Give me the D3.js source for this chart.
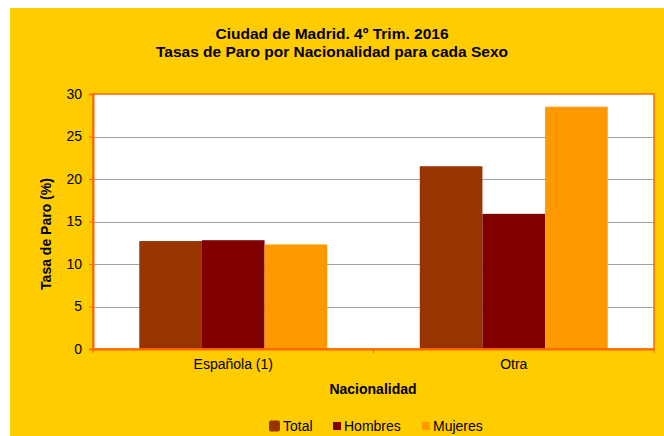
<!DOCTYPE html>
<html lang="es">
<head>
    <meta charset="UTF-8">
    <title>Tasas de Paro por Nacionalidad</title>
    <script src="https://d3js.org/d3.v7.min.js"></script>
    <style>
        body { margin: 0; background: #ffffff; }
        svg text { font-family: Arial, 'Liberation Sans', sans-serif; fill: #000; }
    </style>
</head>
<body>
    <svg id="chart" width="664" height="436"></svg>
    <script>
        // data
        const categories = ['Española (1)', 'Otra'];
        const seriesNames = ['Total', 'Hombres', 'Mujeres'];
        const total = [12.7, 21.5];
        const hombres = [12.8, 15.9];
        const mujeres = [12.3, 28.5];
        const yTicks = [0, 5, 10, 15, 20, 25, 30];

        const colors = { Total: '#993300', Hombres: '#800000', Mujeres: '#FF9900' };
        const orange = '#FF6600';

        const svg = d3.select('#chart');

        // yellow chart background
        svg.append('rect')
            .attr('x', 10).attr('y', 8)
            .attr('width', 654).attr('height', 428)
            .attr('fill', '#FFCC00');

        const plot = { left: 93, top: 94, right: 654, bottom: 349 };

        const x0 = d3.scaleBand()
            .domain(categories)
            .range([plot.left, plot.right])
            .paddingInner(0.33)
            .paddingOuter(0.165);
        const x1 = d3.scaleBand()
            .domain(seriesNames)
            .range([0, x0.bandwidth()]);
        const y = d3.scaleLinear()
            .domain([0, 30])
            .range([plot.bottom, plot.top]);

        // plot area
        svg.append('rect')
            .attr('x', plot.left).attr('y', plot.top)
            .attr('width', plot.right - plot.left)
            .attr('height', plot.bottom - plot.top)
            .attr('fill', '#ffffff');

        // gridlines
        svg.append('g')
            .selectAll('line')
            .data(yTicks.filter(d => d > 0 && d < 30))
            .join('line')
            .attr('x1', plot.left).attr('x2', plot.right)
            .attr('y1', d => Math.round(y(d)) + 0.5)
            .attr('y2', d => Math.round(y(d)) + 0.5)
            .attr('stroke', '#a0a0a0')
            .attr('stroke-width', 1);

        // bars
        const rows = categories.map((c, i) => ({
            cat: c,
            vals: [
                { key: 'Total', v: total[i] },
                { key: 'Hombres', v: hombres[i] },
                { key: 'Mujeres', v: mujeres[i] }
            ]
        }));

        svg.append('g')
            .selectAll('g')
            .data(rows)
            .join('g')
            .attr('transform', d => `translate(${x0(d.cat)},0)`)
            .selectAll('rect')
            .data(d => d.vals)
            .join('rect')
            .attr('x', d => x1(d.key))
            .attr('y', d => y(d.v))
            .attr('width', x1.bandwidth())
            .attr('height', d => y(0) - y(d.v))
            .attr('fill', d => colors[d.key]);

        // plot border (orange)
        svg.append('rect')
            .attr('x', plot.left).attr('y', plot.top)
            .attr('width', plot.right - plot.left)
            .attr('height', plot.bottom - plot.top)
            .attr('fill', 'none')
            .attr('stroke', orange)
            .attr('stroke-width', 1.5);

        // y axis
        const yAxis = d3.axisLeft(y)
            .tickValues(yTicks)
            .tickSize(4)
            .tickPadding(7)
            .tickFormat(d3.format('d'));
        const gy = svg.append('g')
            .attr('transform', `translate(${plot.left},0)`)
            .call(yAxis);
        gy.select('.domain').attr('stroke', orange).attr('stroke-width', 2);
        gy.selectAll('.tick line').attr('stroke', orange);
        gy.selectAll('.tick text')
            .attr('font-size', 14)
            .attr('font-family', 'Arial, Liberation Sans, sans-serif')
            .attr('fill', '#000');

        // x axis
        const xAxis = d3.axisBottom(x0).tickSize(0).tickPadding(10);
        const gx = svg.append('g')
            .attr('transform', `translate(0,${plot.bottom})`)
            .call(xAxis);
        gx.select('.domain').attr('stroke', orange).attr('stroke-width', 2);
        gx.selectAll('.tick text')
            .attr('font-size', 14)
            .attr('font-family', 'Arial, Liberation Sans, sans-serif')
            .attr('fill', '#000');
        // category boundary ticks
        gx.selectAll('.sep')
            .data([plot.left, (plot.left + plot.right) / 2, plot.right])
            .join('line')
            .attr('class', 'sep')
            .attr('x1', d => d).attr('x2', d => d)
            .attr('y1', 0).attr('y2', 4)
            .attr('stroke', orange);

        // titles
        const title = svg.append('text')
            .attr('x', 332).attr('text-anchor', 'middle')
            .attr('font-size', 15.5).attr('font-weight', 'bold');
        title.append('tspan').attr('x', 332).attr('y', 39).text('Ciudad de Madrid. 4º Trim. 2016');
        title.append('tspan').attr('x', 332).attr('y', 57).text('Tasas de Paro por Nacionalidad para cada Sexo');

        svg.append('text')
            .attr('transform', 'translate(51,234) rotate(-90)')
            .attr('text-anchor', 'middle')
            .attr('font-size', 14).attr('font-weight', 'bold')
            .text('Tasa de Paro (%)');

        svg.append('text')
            .attr('x', 373).attr('y', 394)
            .attr('text-anchor', 'middle')
            .attr('font-size', 14).attr('font-weight', 'bold')
            .text('Nacionalidad');

        // legend
        const legendItems = [
            { key: 'Total', x: 269, box: 11 },
            { key: 'Hombres', x: 333, box: 8 },
            { key: 'Mujeres', x: 422, box: 8 }
        ];
        const lg = svg.append('g');
        legendItems.forEach(it => {
            lg.append('rect')
                .attr('x', it.x).attr('y', 426 - it.box / 2)
                .attr('width', it.box).attr('height', it.box)
                .attr('rx', it.box > 9 ? 2 : 0)
                .attr('fill', colors[it.key]);
            lg.append('text')
                .attr('x', it.x + it.box + 3).attr('y', 431)
                .attr('font-size', 14)
                .text(it.key);
        });
    </script>
</body>
</html>
